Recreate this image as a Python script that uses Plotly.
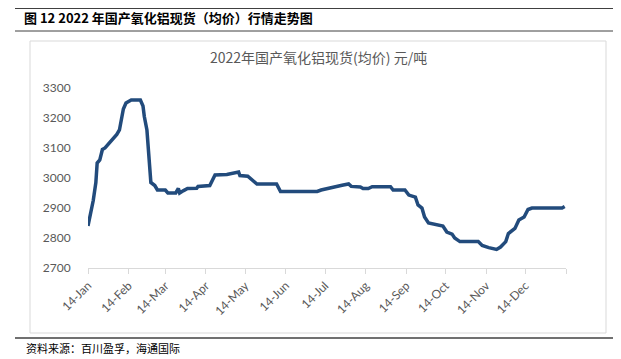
import plotly.graph_objects as go

# The page body has an 8px default margin; the figure is sized to fill the rest of the window.
OFF = 8
W, H = 621 - OFF, 359 - OFF

dates = [
    "2022-01-14", "2022-01-18", "2022-01-20", "2022-01-21", "2022-01-23", "2022-01-25", "2022-01-27",
    "2022-02-05", "2022-02-07", "2022-02-10", "2022-02-12", "2022-02-16", "2022-02-23", "2022-02-25",
    "2022-02-26", "2022-02-28", "2022-03-03", "2022-03-06", "2022-03-08", "2022-03-14", "2022-03-16",
    "2022-03-22", "2022-03-24", "2022-03-25", "2022-03-28", "2022-03-31", "2022-04-07", "2022-04-08",
    "2022-04-17", "2022-04-21", "2022-04-30", "2022-05-09", "2022-05-10", "2022-05-16", "2022-05-23",
    "2022-06-07", "2022-06-10", "2022-07-08", "2022-07-11", "2022-07-18", "2022-07-22", "2022-07-27",
    "2022-08-01", "2022-08-03", "2022-08-10", "2022-08-12", "2022-08-16", "2022-08-19", "2022-09-02",
    "2022-09-04", "2022-09-13", "2022-09-16", "2022-09-21", "2022-09-23", "2022-09-26", "2022-09-28",
    "2022-10-01", "2022-10-12", "2022-10-15", "2022-10-19", "2022-10-21", "2022-10-25", "2022-11-08",
    "2022-11-11", "2022-11-16", "2022-11-22", "2022-11-25", "2022-11-29", "2022-12-01", "2022-12-04",
    "2022-12-06", "2022-12-09", "2022-12-13", "2022-12-16", "2022-12-19", "2023-01-11", "2023-01-13",
]
prices = [
    2840, 2925, 2985, 3050, 3060, 3095, 3100,
    3145, 3160, 3230, 3250, 3260, 3260, 3240,
    3205, 3160, 2985, 2975, 2960, 2960, 2950,
    2950, 2965, 2950, 2958, 2965, 2966, 2972,
    2975, 3010, 3012, 3020, 3008, 3006, 2980,
    2980, 2955, 2955, 2960, 2968, 2972, 2976,
    2980, 2972, 2970, 2965, 2965, 2971, 2971,
    2960, 2960, 2943, 2936, 2910, 2900, 2870,
    2850, 2840, 2820, 2813, 2800, 2788, 2788,
    2775, 2768, 2762, 2770, 2788, 2815, 2827,
    2832, 2860, 2870, 2895, 2900, 2900, 2905,
]

tick_dates = ["2022-01-14", "2022-02-14", "2022-03-14", "2022-04-14", "2022-05-14", "2022-06-14",
              "2022-07-14", "2022-08-14", "2022-09-14", "2022-10-14", "2022-11-14", "2022-12-14",
              "2023-01-14"]
tick_labels = ["14-Jan", "14-Feb", "14-Mar", "14-Apr", "14-May", "14-Jun",
               "14-Jul", "14-Aug", "14-Sep", "14-Oct", "14-Nov", "14-Dec", ""]
y_ticks = [2700, 2800, 2900, 3000, 3100, 3200, 3300]

header = "图 12 2022 年国产氧化铝现货（均价）行情走势图"
chart_title = "2022年国产氧化铝现货(均价) 元/吨"
source = "资料来源：百川盈孚，海通国际"

def px(x):
    return (x - OFF) / W

def py(y):
    return 1 - (y - OFF) / H

fig = go.Figure()
fig.add_trace(go.Scatter(
    x=dates, y=prices, mode="lines",
    line=dict(color="#224b7c", width=3.5),
    hoverinfo="skip", showlegend=False,
))

fig.update_layout(
    template="none",
    width=W, height=H, autosize=False,
    margin=dict(l=0, r=0, t=0, b=0, pad=0),
    paper_bgcolor="white", plot_bgcolor="white",
    font=dict(family="Lato, 'Noto Sans CJK SC'", color="#595959"),
    xaxis=dict(
        domain=[px(88), px(566)],
        automargin=False,
        type="date",
        range=["2022-01-14", "2023-01-14"],
        tickvals=tick_dates, ticktext=tick_labels,
        tickangle=-45,
        tickfont=dict(size=12, color="#595959", family="Lato"),
        showgrid=False, zeroline=False,
        showline=True, linecolor="#d9d9d9", linewidth=1,
        ticks="outside", ticklen=5, tickcolor="#d9d9d9",
    ),
    yaxis=dict(
        domain=[py(268), py(88)],
        automargin=False,
        range=[2700, 3300],
        tickvals=y_ticks,
        tickfont=dict(size=12, color="#595959", family="Lato"),
        showgrid=False, zeroline=False, showline=False,
        ticks="outside", ticklen=14, tickcolor="rgba(0,0,0,0)",
    ),
    shapes=[
        dict(type="line", xref="paper", yref="paper", x0=px(15), x1=px(613), y0=py(8.5), y1=py(8.5),
             line=dict(color="#404040", width=1)),
        dict(type="line", xref="paper", yref="paper", x0=px(15), x1=px(613), y0=py(31), y1=py(31),
             line=dict(color="#404040", width=1)),
        dict(type="rect", xref="paper", yref="paper", x0=px(30), x1=px(606), y0=py(333), y1=py(41),
             line=dict(color="#d9d9d9", width=1)),
        dict(type="line", xref="paper", yref="paper", x0=px(15), x1=px(613), y0=py(338), y1=py(338),
             line=dict(color="#404040", width=1.5)),
    ],
    annotations=[
        dict(text="<b>" + header + "</b>", xref="paper", yref="paper", x=px(22), y=py(17),
             xanchor="left", yanchor="middle", showarrow=False,
             font=dict(size=13, color="#000000", family="'Noto Sans CJK SC'")),
        dict(text=chart_title, xref="paper", yref="paper", x=px(318), y=py(57),
             xanchor="center", yanchor="middle", showarrow=False,
             font=dict(size=14, color="#595959", family="'Noto Sans CJK SC'")),
        dict(text=source, xref="paper", yref="paper", x=px(24), y=py(348),
             xanchor="left", yanchor="middle", showarrow=False,
             font=dict(size=11, color="#000000", family="'Noto Sans CJK SC'")),
    ],
)

fig.write_html("out.html")
